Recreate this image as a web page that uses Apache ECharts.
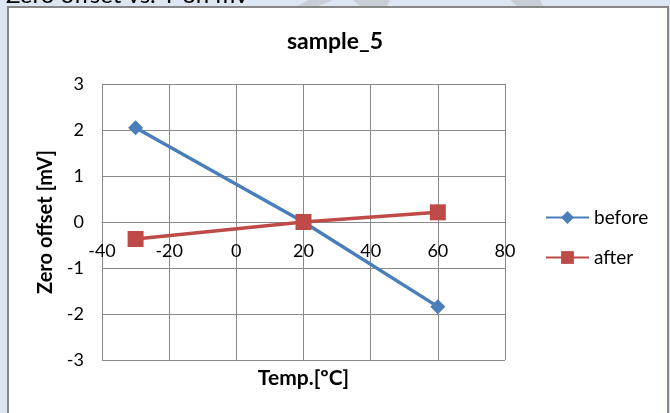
<!DOCTYPE html>
<html>
<head>
<meta charset="utf-8">
<script src="https://cdn.jsdelivr.net/npm/echarts@6/dist/echarts.min.js"></script>
<style>html,body{margin:0;padding:0;}#c{width:670px;height:413px;}</style>
</head>
<body>
<div id="c"></div>
<script>
var titleText = 'sample_5';
var xName = 'Temp.[ºC]';
var yName = 'Zero offset [mV]';
var temps = [-30, 20, 60];
var beforeVals = [2.05, 0.0, -1.84];
var afterVals = [-0.37, 0.0, 0.21];
var seriesNames = ['before', 'after'];

function pairs(xs, ys) { return xs.map(function (x, i) { return [x, ys[i]]; }); }

var font = 'Lato, "Noto Sans", sans-serif';
var chart = echarts.init(document.getElementById('c'));
chart.setOption({
  backgroundColor: '#dce6f2',
  animation: false,
  textStyle: { fontFamily: font },
  graphic: [
    { type: 'polygon', z: -30, shape: { points: [[308,0],[333,0],[318,6],[298,6]] }, style: { fill: '#c9ced6' } },
    { type: 'polygon', z: -30, shape: { points: [[353,0],[390,0],[387,6],[360,6]] }, style: { fill: '#c9ced6' } },
    { type: 'polygon', z: -30, shape: { points: [[510,0],[540,0],[543,6],[517,6]] }, style: { fill: '#c9ced6' } },
    { type: 'text', z: -25, left: 6, top: -17, style: { text: 'Zero offset vs. T on mV', font: '24px ' + font, fill: '#000' } },
    { type: 'rect', z: -20, shape: { x: 8, y: 7, width: 660, height: 420 }, style: { fill: '#fff', stroke: '#878787', lineWidth: 2 } }
  ],
  title: {
    text: titleText, left: 'center', top: 25,
    textStyle: { fontFamily: font, fontWeight: 'bold', fontSize: 23, color: '#000' }
  },
  legend: {
    orient: 'vertical', left: 540, top: 203, itemWidth: 43, itemHeight: 16, itemGap: 21,
    data: seriesNames,
    textStyle: { fontFamily: font, fontSize: 19, color: '#000' }
  },
  grid: { left: 102, top: 84, right: 165, bottom: 53, containLabel: false, outerBoundsMode: 'none' },
  xAxis: {
    type: 'value', min: -40, max: 80, interval: 20,
    offset: -138,
    name: xName, nameLocation: 'middle', nameGap: 146,
    nameTextStyle: { fontFamily: font, fontWeight: 'bold', fontSize: 21, color: '#000' },
    axisLine: { onZero: false, lineStyle: { color: '#898989', width: 1 } },
    axisTick: { show: false },
    axisLabel: { margin: 20, fontSize: 18, color: '#000', fontFamily: font },
    splitLine: { show: true, lineStyle: { color: '#898989', width: 1 } }
  },
  yAxis: {
    type: 'value', min: -3, max: 3, interval: 1,
    name: yName, nameLocation: 'middle', nameGap: 44, nameRotate: 90,
    nameTextStyle: { fontFamily: font, fontWeight: 'bold', fontSize: 20, color: '#000' },
    axisLine: { show: false, onZero: false },
    axisTick: { show: false },
    axisLabel: { margin: 18, fontSize: 18, color: '#000', fontFamily: font },
    splitLine: { show: true, lineStyle: { color: '#898989', width: 1 } }
  },
  series: [
    { name: seriesNames[0], type: 'line', data: pairs(temps, beforeVals),
      symbol: 'diamond', symbolSize: 15, color: '#4a7ebb',
      lineStyle: { width: 3.5, color: '#4a7ebb' }, itemStyle: { color: '#4a7ebb' } },
    { name: seriesNames[1], type: 'line', data: pairs(temps, afterVals),
      symbol: 'rect', symbolSize: 16, color: '#be4b48',
      lineStyle: { width: 3.5, color: '#be4b48' }, itemStyle: { color: '#be4b48' } }
  ]
});
</script>
</body>
</html>
